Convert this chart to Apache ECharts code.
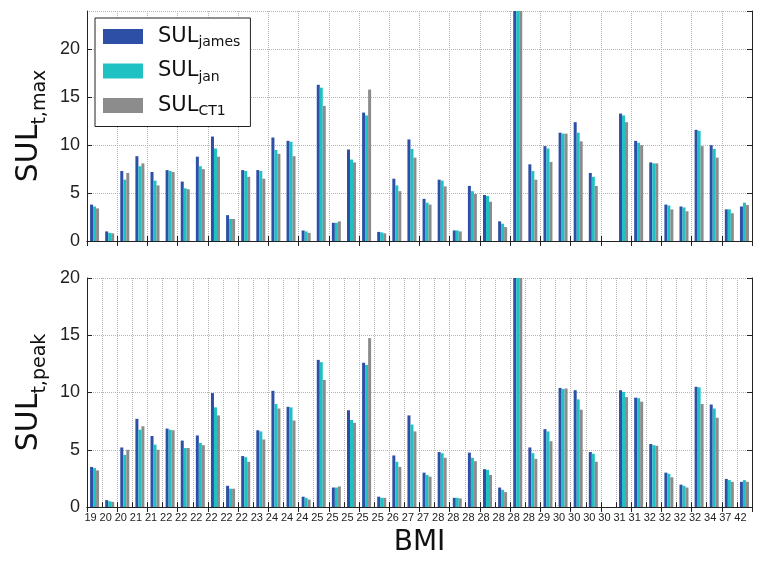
<!DOCTYPE html>
<html>
<head>
<meta charset="utf-8">
<script src="https://cdn.jsdelivr.net/npm/echarts@6/dist/echarts.min.js"></script>
<style>
  html, body { margin: 0; padding: 0; background: #fff; }
  #chart { width: 759px; height: 563px; }
</style>
</head>
<body>
<div id="chart"></div>
<script>
// BMI of each subject (x categories)
var bmi = ['19', '20', '20', '21', '21', '22', '22', '22', '22', '22', '22', '23', '24', '24', '24',
  '25', '25', '25', '25', '25', '26', '27', '27', '28', '28', '28', '28', '28', '28', '28',
  '29', '30', '30', '30', '30', '31', '31', '32', '32', '32', '32', '34', '37', '42'];

// SUL t,max (top panel)
var maxJames = [3.8, 1.0, 7.3, 8.85, 7.2, 7.4, 6.2, 8.8, 10.9, 2.7, 7.4, 7.4, 10.8, 10.45, 1.1,
  16.3, 1.9, 9.55, 13.4, 0.95, 6.5, 10.6, 4.4, 6.4, 1.1, 5.75, 4.8, 2.05, 26,
  8.0, 9.9, 11.3, 12.4, 7.1, 0, 13.3, 10.45, 8.2, 3.8, 3.6, 11.6, 10.0, 3.3, 3.6];
var maxJan = [3.6, 0.85, 6.4, 7.8, 6.3, 7.3, 5.5, 7.8, 9.65, 2.3, 7.3, 7.3, 9.5, 10.35, 1.0,
  16.0, 1.9, 8.5, 13.1, 0.9, 5.8, 9.6, 4.0, 6.3, 1.1, 5.2, 4.7, 1.8, 26,
  7.3, 9.65, 11.2, 11.3, 6.7, 0, 13.1, 10.25, 8.1, 3.7, 3.5, 11.5, 9.6, 3.3, 4.0];
var maxCT1 = [3.4, 0.8, 7.1, 8.1, 5.8, 7.2, 5.4, 7.5, 8.8, 2.3, 6.7, 6.5, 9.1, 8.85, 0.85,
  14.1, 2.05, 8.2, 15.8, 0.8, 5.2, 8.7, 3.8, 5.7, 1.0, 4.9, 4.1, 1.45, 26,
  6.4, 8.25, 11.2, 10.4, 5.75, 0, 12.4, 10.0, 8.1, 3.3, 3.1, 9.9, 8.7, 2.9, 3.75];

// SUL t,peak (bottom panel)
var peakJames = [3.5, 0.6, 5.2, 7.7, 6.2, 6.85, 5.8, 6.25, 9.95, 1.85, 4.45, 6.7, 10.15, 8.75, 0.9,
  12.85, 1.7, 8.45, 12.6, 0.9, 4.5, 8.0, 3.0, 4.8, 0.8, 4.75, 3.3, 1.7, 22,
  5.2, 6.8, 10.4, 10.2, 4.8, 0, 10.2, 9.55, 5.5, 3.0, 1.95, 10.5, 8.95, 2.45, 2.2];
var peakJan = [3.4, 0.5, 4.55, 6.75, 5.45, 6.75, 5.15, 5.6, 8.7, 1.6, 4.35, 6.6, 9.0, 8.7, 0.8,
  12.65, 1.7, 7.6, 12.4, 0.8, 3.95, 7.2, 2.8, 4.7, 0.8, 4.3, 3.25, 1.5, 22,
  4.7, 6.6, 10.3, 9.4, 4.65, 0, 10.05, 9.5, 5.4, 2.9, 1.85, 10.45, 8.6, 2.35, 2.35];
var peakCT1 = [3.2, 0.45, 5.0, 7.05, 5.0, 6.7, 5.15, 5.4, 8.0, 1.6, 3.95, 5.9, 8.6, 7.55, 0.65,
  11.1, 1.8, 7.35, 14.75, 0.8, 3.5, 6.6, 2.65, 4.3, 0.75, 4.0, 2.8, 1.3, 22,
  4.2, 5.75, 10.35, 8.5, 3.95, 0, 9.6, 9.2, 5.35, 2.6, 1.7, 9.0, 7.8, 2.2, 2.2];

var seriesNames = ['SUL_james', 'SUL_jan', 'SUL_CT1'];
var subs = { SUL_james: 'james', SUL_jan: 'jan', SUL_CT1: 'CT1' };
var colors = ['#2e4fa6', '#1fc1c3', '#8c8c8c'];

var chart = echarts.init(document.getElementById('chart'));
var dotted = { show: true, lineStyle: { color: '#b5b5b5', type: 'dotted', width: 1 } };
var frame = { show: true, lineStyle: { color: '#222', width: 1 } };
var tickIn = { show: true, inside: true, length: 5, lineStyle: { color: '#222' } };
var nameRich = {
  a: { fontSize: 30, lineHeight: 40, color: '#111', fontFamily: 'DejaVu Sans' },
  b: { fontSize: 19, lineHeight: 12, verticalAlign: 'bottom', color: '#111', fontFamily: 'DejaVu Sans' }
};

function xAx(grid, pos, labels) {
  return {
    type: 'category', gridIndex: grid, position: pos, data: bmi,
    axisLine: frame, axisTick: tickIn,
    axisLabel: labels ? { show: true, fontSize: 11, color: '#222', margin: 5, interval: 0, padding: [0, 8, 0, 0] } : { show: false },
    splitLine: pos === 'bottom' ? dotted : { show: false }
  };
}
function yAx(grid, pos, max, name) {
  var ax = {
    type: 'value', gridIndex: grid, position: pos, min: 0, max: max, interval: 5,
    axisLine: frame, axisTick: tickIn,
    axisLabel: pos === 'left' ? { fontSize: 18, color: '#222', margin: 7, showMaxLabel: max % 5 === 0 } : { show: false },
    splitLine: pos === 'left' ? dotted : { show: false }
  };
  if (name) {
    ax.name = name;
    ax.nameLocation = 'middle';
    ax.nameRotate = 90;
    ax.nameGap = 36;
    ax.nameTextStyle = { rich: nameRich };
  }
  return ax;
}

var bottomX = xAx(1, 'bottom', true);
bottomX.name = 'BMI';
bottomX.nameLocation = 'middle';
bottomX.nameGap = 22;
bottomX.nameTextStyle = { fontSize: 28, color: '#111', fontFamily: 'DejaVu Sans' };

function bars(name, data, axisIdx, colorIdx) {
  return {
    name: name, type: 'bar', data: data,
    xAxisIndex: axisIdx, yAxisIndex: axisIdx,
    barWidth: 3, barGap: '0%',
    itemStyle: { color: colors[colorIdx] },
    animation: false
  };
}

var option = {
  animation: false,
  color: colors,
  grid: [
    { left: 87, right: 7, top: 11, height: 230 },
    { left: 87, right: 7, top: 278, height: 229 }
  ],
  legend: {
    data: seriesNames,
    orient: 'vertical',
    left: 95, top: 18,
    backgroundColor: '#fff',
    borderColor: '#222', borderWidth: 1, borderRadius: 0,
    padding: [8, 10, 8, 8],
    itemWidth: 40, itemHeight: 15, itemGap: 11,
    icon: 'rect',
    formatter: function (n) { return '{a|SUL}{b|' + subs[n] + '}'; },
    textStyle: {
      rich: {
        a: { fontSize: 21, lineHeight: 26, color: '#111', padding: [0, 0, 0, 10], fontFamily: 'DejaVu Sans' },
        b: { fontSize: 14, lineHeight: 9, verticalAlign: 'bottom', color: '#111', fontFamily: 'DejaVu Sans' }
      }
    },
    z: 10
  },
  xAxis: [xAx(0, 'bottom', false), xAx(0, 'top', false), bottomX, xAx(1, 'top', false)],
  yAxis: [
    yAx(0, 'left', 24, '{a|SUL}{b|t,max}'), yAx(0, 'right', 24),
    yAx(1, 'left', 20, '{a|SUL}{b|t,peak}'), yAx(1, 'right', 20)
  ],
  series: [
    bars('SUL_james', maxJames, 0, 0),
    bars('SUL_jan', maxJan, 0, 1),
    bars('SUL_CT1', maxCT1, 0, 2),
    bars('SUL_james', peakJames, 2, 0),
    bars('SUL_jan', peakJan, 2, 1),
    bars('SUL_CT1', peakCT1, 2, 2)
  ]
};
chart.setOption(option);
</script>
</body>
</html>
